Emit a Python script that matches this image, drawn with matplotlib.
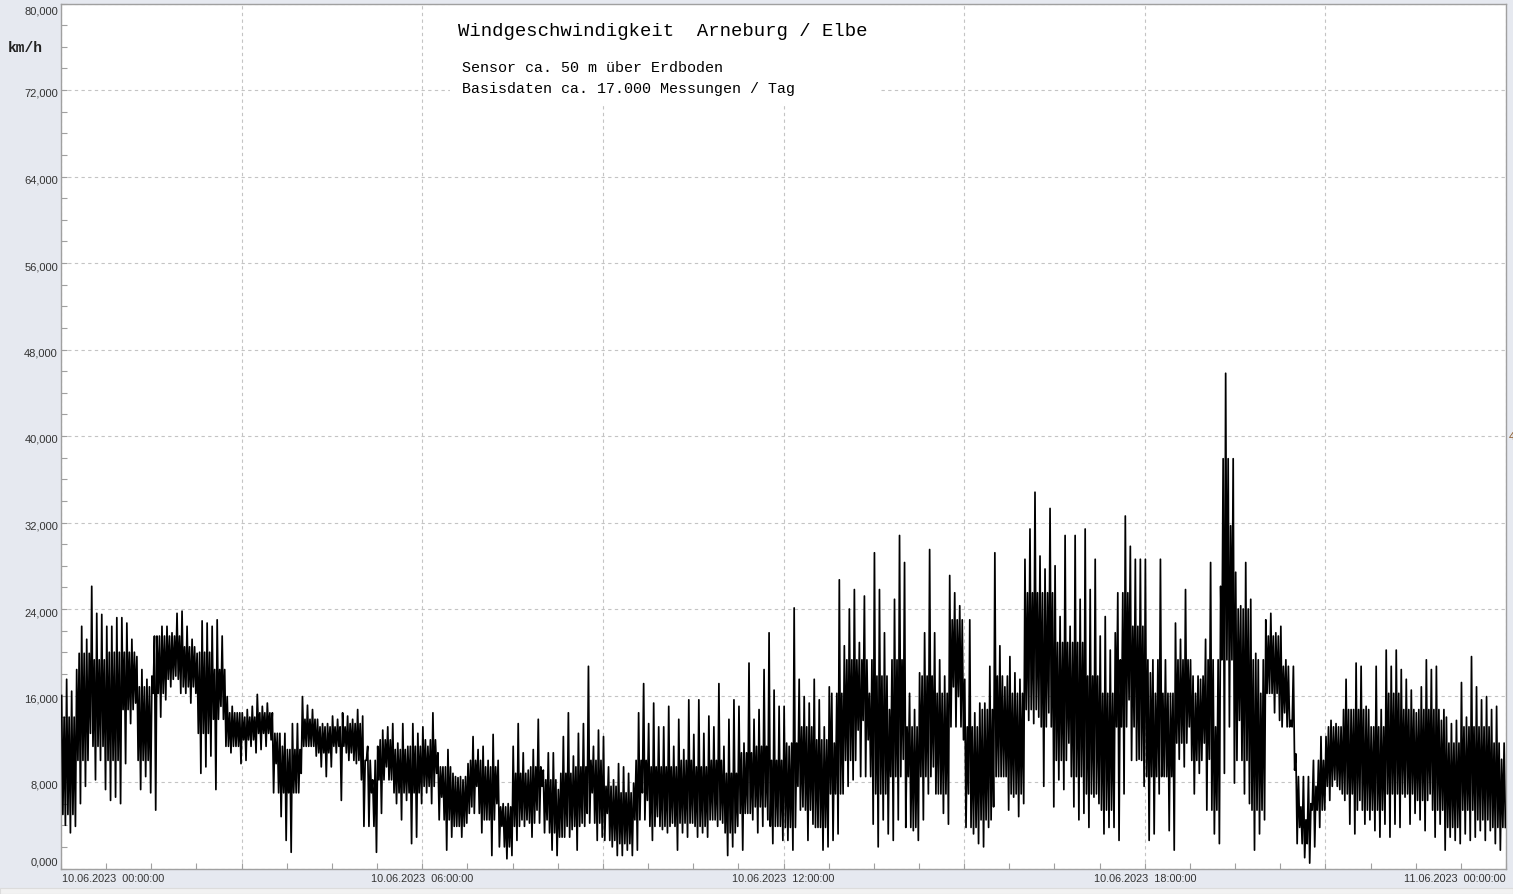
#!/usr/bin/env python3
"""Windgeschwindigkeit Arneburg / Elbe, 10.06.2023 - Tagesverlauf."""

import matplotlib.pyplot as plt
import numpy as np
from matplotlib.patches import Rectangle
from matplotlib.ticker import MultipleLocator, NullFormatter

# wind speed in km/h, read per 5-minute bin (12 bins per hour):
# highest and lowest value reached inside each bin
speed_hi = [
    16, 17.5, 16.4, 18.4, 22.4, 21.2, 26.1, 23.6, 23.5, 22.4, 22.4, 23.2,      # 00h
    23.2, 22.7, 21.2, 19.6, 18.4, 17.5, 17.8, 21.5, 22.4, 22.4, 21.8, 23.6,    # 01h
    23.8, 22.4, 21.2, 19.9, 22.9, 22.7, 22.4, 23, 21.5, 15.9, 15, 14.4,        # 02h
    14.4, 14.7, 15, 16.1, 15, 15.3, 14.4, 12.5, 11.3, 11, 13.4, 13.4,          # 03h
    15.9, 15.1, 14.7, 13.8, 13.4, 13.4, 14.1, 13.8, 14.4, 14.1, 13.8, 14.7,    # 04h
    14.1, 11.3, 8.2, 11.3, 12.8, 13.1, 13.4, 11.6, 13.4, 11.3, 13.4, 12.5,     # 05h
    13.1, 11.3, 14.4, 10.7, 9.4, 11, 8.8, 8.4, 8.2, 9.7, 12.2, 11,             # 06h
    11.3, 10, 12.4, 10, 6, 6, 11.3, 13.4, 10.7, 9.1, 11, 13.8,                 # 07h
    9.1, 10.7, 10.7, 7.3, 12.2, 14.4, 10.4, 12.5, 13.4, 18.7, 11.3, 12.8,      # 08h
    12.2, 9.4, 8.2, 9.7, 9.4, 8.8, 7.9, 14.4, 17.1, 13.4, 15.3, 13.1,          # 09h
    13.1, 15, 11.3, 13.8, 11, 15.6, 12.4, 15.6, 12.5, 14.1, 13.1, 17.1,        # 10h
    11.3, 13.8, 15.6, 15, 11.6, 19, 13.8, 14.7, 18.4, 21.8, 16.5, 15,          # 11h
    15, 11.3, 24.1, 17.5, 15.9, 15.3, 17.5, 15.6, 13.1, 16.8, 11.6, 26.7,      # 12h
    20.6, 24, 25.8, 20.9, 25.2, 16.2, 29.2, 25.8, 21.8, 14.7, 24.9, 30.8,      # 13h
    28.3, 16.2, 14.7, 18.1, 21.8, 29.5, 21.8, 19.3, 17.8, 27.1, 25.5, 24.3,    # 14h
    17.5, 23, 14.4, 15.3, 15.3, 18.7, 29.2, 20.6, 16.8, 19.6, 18.1, 17.5,      # 15h
    28.6, 31.4, 34.8, 28.9, 27.7, 33.3, 28, 23.3, 30.8, 22.4, 30.8, 24.9,      # 16h
    31.4, 25.8, 28.6, 21.5, 23.3, 20.2, 21.8, 19.3, 32.6, 29.8, 28.6, 28.6,    # 17h
    28.6, 18.1, 16.2, 28.6, 19.3, 16.2, 22.7, 21.2, 25.8, 19.3, 16.2, 17.5,    # 18h
    21.2, 28.3, 13.1, 26.1, 45.8, 31.7, 27.4, 24.3, 28.3, 24.9, 19.9, 16.2,    # 19h
    23, 23.6, 21.8, 22.4, 19.3, 13.7, 10.6, 5.7, 4.5, 6, 7.6, 12.2,            # 20h
    12.2, 13.7, 13.4, 13.1, 17.5, 14.7, 19, 18.7, 15, 13.1, 18.7, 14.7,        # 21h
    20.2, 18.7, 20.2, 18.4, 17.5, 16.5, 14.4, 16.8, 19.3, 18.4, 18.7, 13.7,    # 22h
    14, 13.4, 13.7, 17.2, 14, 19.6, 16.8, 15.6, 15.9, 14.7, 15, 10.1,          # 23h
]
speed_lo = [
    4, 3.3, 3.9, 6, 7.6, 12.5, 8.2, 10, 7.3, 6.3, 6.6, 6,                      # 00h
    9.7, 13.4, 15.3, 7.3, 8.5, 7, 5.4, 14, 15.6, 16.8, 17.8, 16.2,             # 01h
    16.2, 15.3, 16.2, 8.8, 9.4, 10.4, 7.3, 15, 11.3, 10.7, 11.3, 9.7,          # 02h
    10, 11.3, 10.7, 11, 11.3, 11.9, 9.7, 4.8, 2.6, 1.5, 7, 8.8,                # 03h
    11.3, 11.3, 10.4, 9.4, 8.5, 9.4, 10.7, 6.3, 10.7, 10.7, 9.7, 8.2,          # 04h
    10, 7, 1.5, 5.1, 9.4, 8.2, 6, 4.5, 6.3, 2.3, 2.9, 6,                       # 05h
    7, 6, 8.8, 6.6, 1.7, 2.9, 3.9, 2.9, 4.2, 5.7, 7.6, 3.3,                    # 06h
    4.5, 1.2, 6, 3.9, 0.9, 1.2, 2.6, 4.5, 4.5, 2.9, 5.4, 7.6,                  # 07h
    4.5, 1.7, 1.2, 2.9, 3.9, 3.6, 1.7, 4.2, 5.1, 7, 2.6, 2.9,                  # 08h
    5.1, 2, 1.2, 1.2, 1.7, 1.2, 1.7, 7, 6.3, 2.6, 4.8, 3.6,                    # 09h
    3.3, 4.2, 1.7, 3.3, 2.9, 4.2, 2.9, 3.3, 2.9, 4.5, 3.9, 4.2,                # 10h
    1.2, 2, 3.9, 1.7, 5.1, 4.5, 3.3, 3.9, 4.5, 2.3, 3.9, 2.6,                  # 11h
    2.6, 1.7, 7.6, 5.7, 2.6, 4.1, 3.8, 1.7, 2, 2.6, 3.2, 6.9,                  # 12h
    7.6, 8.2, 12.8, 13.7, 11.9, 4.1, 2, 4.5, 3.2, 2.6, 4.5, 10.1,              # 13h
    8.5, 3.5, 2.6, 4.5, 6.9, 9.4, 6.9, 5.1, 4.1, 16.8, 15.9, 11.9,             # 14h
    6.9, 3.2, 2.3, 2, 3.8, 5.7, 8.5, 8.5, 5.4, 6.6, 4.8, 6,                    # 15h
    13.7, 13.4, 14, 7.6, 14.4, 5.7, 8.2, 7.3, 11.6, 5.7, 4.5, 5.1,             # 16h
    3.8, 6.6, 6, 3.2, 3.8, 3.8, 2.6, 6.9, 15.6, 13.1, 10.1, 7.6,               # 17h
    2.6, 3.2, 6.9, 8.5, 3.5, 1.7, 10.1, 9.4, 13.1, 6.9, 8.8, 11.6,             # 18h
    10.1, 3.2, 2.3, 8.8, 13.1, 7.9, 13.7, 6.9, 6, 1.7, 3.2, 4.5,               # 19h
    16.2, 14.4, 13.7, 14.4, 13.1, 9.1, 3.8, 1.0, 0.5, 2, 3.8, 5.4,             # 20h
    6.3, 8.2, 7.3, 6.3, 4.1, 3.2, 6.3, 4.1, 4.5, 3.5, 2.9, 4.1,                # 21h
    2.9, 4.1, 3.8, 6.6, 4.1, 5.1, 4.5, 3.5, 6.9, 2.9, 4.1, 1.7,                # 22h
    2.9, 2.6, 2.3, 3.2, 2.6, 2.9, 3.5, 2.6, 3.5, 2.3, 1.7, 3.8,                # 23h
]

# dense part of the trace, read per 15 minutes (4 per hour), km/h
core_hi = [
    14, 19.9, 19.3, 20,   20, 16.8, 21.5, 21.5,   20.5, 20, 18.4, 14.4,        # 00-02h
    14, 14.4, 12.5, 11,   13.8, 13.1, 13.1, 13.4,  10, 11.9, 11, 11.3,         # 03-05h
    11.9, 9.4, 8.5, 10,   9.4, 5.7, 8.8, 9.4,     8.2, 8.8, 9.4, 10,           # 06-08h
    7.6, 7, 10, 9.4,      9.4, 10, 9.4, 10,       8.8, 10.7, 11.3, 10,         # 09-11h
    11.6, 13.1, 11.9, 16.2,  19.3, 19.3, 17.8, 19.3,  13.1, 17.8, 16.2, 23,    # 12-14h
    13.1, 14.7, 17.8, 16.2,  25.5, 25.5, 20.9, 20.9,  17.8, 16.2, 25.5, 22.4,  # 15-17h
    19.3, 16.2, 19.3, 17.8,  19.3, 37.9, 24, 19.3,    21.5, 18.7, 8.5, 10,     # 18-20h
    13.1, 14.7, 14.7, 13.1,  16.2, 14.7, 14.7, 14.7,  11.6, 13.1, 13.1, 11.6,  # 21-23h
]
core_lo = [
    5, 10, 11.3, 10,      14.7, 10, 16.2, 17.5,   16.8, 12.5, 13.8, 11.3,      # 00-02h
    11.9, 12.5, 7, 7,     11.3, 10.7, 11.3, 10,   3.9, 8.2, 7, 7,              # 03-05h
    7.6, 4.5, 3.9, 5.1,   4.5, 2, 3.9, 4.2,       3.3, 2.9, 3.9, 4.2,          # 06-08h
    2.6, 2.3, 4.5, 3.9,   3.9, 4.2, 3.9, 4.5,     3.3, 5.1, 5.7, 3.9,          # 09-11h
    3.8, 5.4, 3.8, 6.9,   10, 8.5, 6.9, 8.5,      3.8, 8.5, 6.9, 13.1,         # 12-14h
    3.8, 4.5, 8.5, 6.9,   14.7, 13.1, 10, 8.5,    6.9, 5.4, 13.1, 10,          # 15-17h
    8.5, 8.5, 11.6, 10,   5.4, 19.3, 10, 5.4,     16.2, 13.1, 2.3, 5.4,        # 18-20h
    7.6, 6.9, 5.4, 5.4,   6.9, 6.9, 6.3, 5.4,     3.8, 5.4, 4.5, 3.8,          # 21-23h
]

x_labels = ['10.06.2023  00:00:00', '10.06.2023  06:00:00', '10.06.2023  12:00:00',
            '10.06.2023  18:00:00', '11.06.2023  00:00:00']
x_label_hours = [0, 6, 12, 18, 24]
y_ticks = [0, 8, 16, 24, 32, 40, 48, 56, 64, 72, 80]

title = 'Windgeschwindigkeit  Arneburg / Elbe'
subtitle = ['Sensor ca. 50 m über Erdboden', 'Basisdaten ca. 17.000 Messungen / Tag']

BG = '#e6e9f0'
TXT = '#333333'

# each 5-minute bin becomes four samples: max, dense-low, dense-high, min
nbins = len(speed_hi)
bin_core_hi = np.repeat(core_hi, 3)
bin_core_lo = np.repeat(core_lo, 3)
start = np.arange(nbins) / 12.0
offsets = np.array([0.125, 0.375, 0.625, 0.875]) / 12.0
times = (start[:, None] + offsets[None, :]).ravel()
speeds = np.column_stack([speed_hi, bin_core_lo, bin_core_hi, speed_lo]).ravel()

fig = plt.figure(figsize=(15.13, 8.95), dpi=100, facecolor=BG)
ax = fig.add_axes([61 / 1513, 1 - 869.5 / 895, 1445 / 1513, 865 / 895])
ax.set_facecolor('white')

ax.plot(times, speeds, color='black', linewidth=1.25, zorder=3)

ax.set_xlim(0, 24)
ax.set_ylim(0, 80)
ax.xaxis.set_major_locator(MultipleLocator(3))
ax.xaxis.set_minor_locator(MultipleLocator(0.75))
ax.yaxis.set_major_locator(MultipleLocator(8))
ax.yaxis.set_minor_locator(MultipleLocator(2))
ax.xaxis.set_major_formatter(NullFormatter())
ax.yaxis.set_major_formatter(NullFormatter())
ax.tick_params(which='both', direction='in', length=4, width=0.8, color='#a0a0a0')
ax.grid(True, which='major', color='#c4c4c4', linestyle=(0, (3, 3)), linewidth=0.8)
ax.set_axisbelow(True)
for side in ax.spines.values():
    side.set_color('#a0a0a0')
    side.set_linewidth(1.0)

# white box behind the heading texts (hides the grid there)
ax.add_patch(Rectangle((0.269, 0.8815), 0.2976, 0.12, transform=ax.transAxes,
                       facecolor='white', edgecolor='none', zorder=1))

# y tick labels, German decimal comma
for v in y_ticks:
    va = 'center'
    dy = -3
    if v == 0:
        va, dy = 'bottom', 2
    elif v == 80:
        va, dy = 'top', -2
    y = 1 - (869.5 - v / 80 * 865 - dy) / 895
    fig.text(58 / 1513, y, f'{v:.3f}'.replace('.', ','), ha='right', va=va,
             fontsize=8, color=TXT, family='Liberation Sans')

# x tick labels
for h, lab in zip(x_label_hours, x_labels):
    ha = 'center'
    xp = 61 + h / 24 * 1445
    if h == 0:
        ha, xp = 'left', 62
    elif h == 24:
        ha, xp = 'right', 1506
    fig.text(xp / 1513, 1 - 879 / 895, lab, ha=ha, va='center', fontsize=7.8,
             color=TXT, family='Liberation Sans')

fig.text(8 / 1513, 1 - 48 / 895, 'km/h', ha='left', va='center', fontsize=10.5,
         fontweight='bold', family='Liberation Mono', color='#222222')
fig.text(458 / 1513, 1 - 31 / 895, title, ha='left', va='center', fontsize=13.6,
         family='Liberation Mono', color='black')
fig.text(462 / 1513, 1 - 68 / 895, subtitle[0], ha='left', va='center', fontsize=10.8,
         family='Liberation Mono', color='black')
fig.text(462 / 1513, 1 - 89 / 895, subtitle[1], ha='left', va='center', fontsize=10.8,
         family='Liberation Mono', color='black')

# clipped marker at the right edge and the light strip at the bottom
fig.text(1509 / 1513, 1 - 437 / 895, '4', ha='left', va='center', fontsize=8,
         color='#8b5a2b', family='Liberation Sans')
fig.patches.append(Rectangle((0, 0), 1, 6 / 895, transform=fig.transFigure,
                             facecolor='#f2f2f2', edgecolor='#dcdcdc', linewidth=0.8))

fig.savefig('out.png', dpi=100, facecolor=BG)
